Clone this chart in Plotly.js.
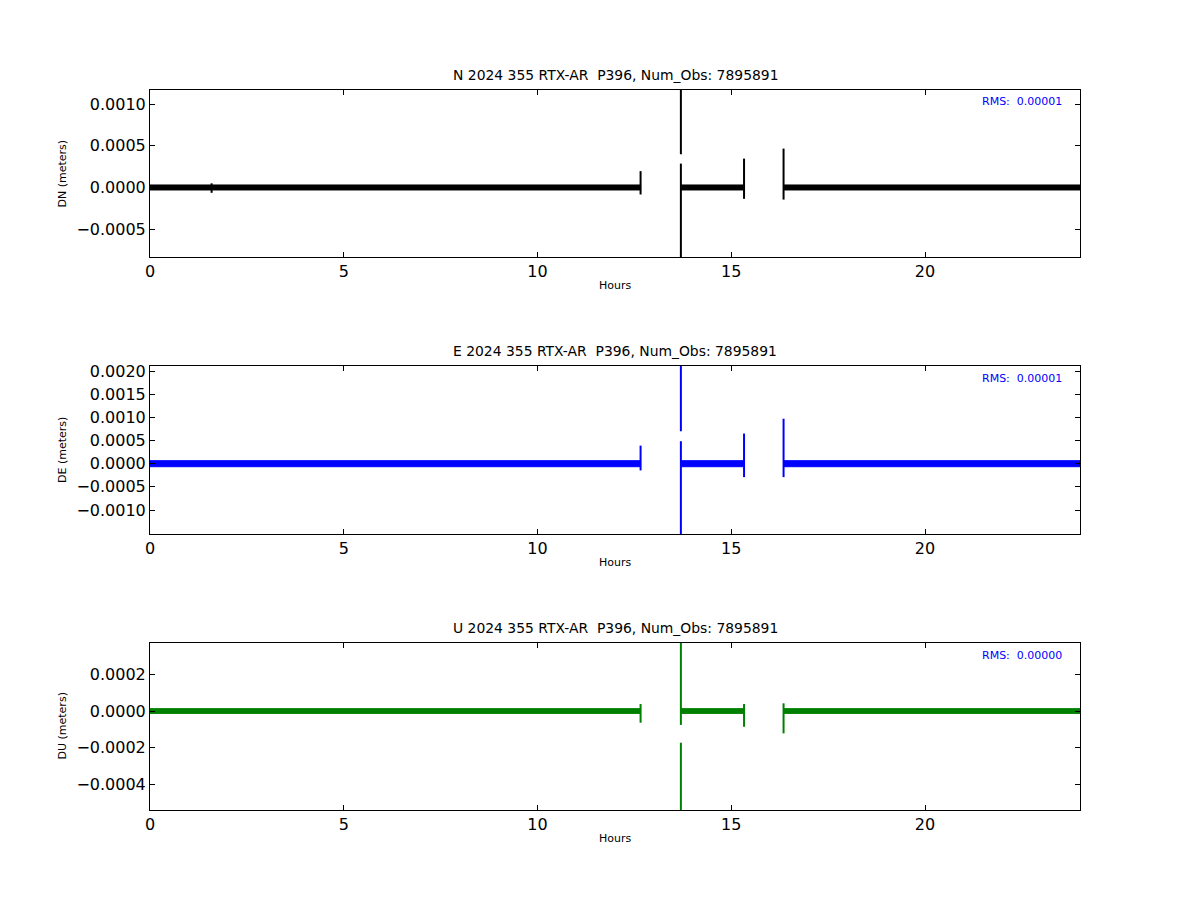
<!DOCTYPE html>
<html>
<head>
<meta charset="utf-8">
<script src="https://cdn.plot.ly/plotly-3.0.1.min.js"></script>
<style>html,body{margin:0;padding:0;background:#fff;}#chart{width:1200px;height:900px;}</style>
</head>
<body>
<div id="chart"></div>
<script>
// ---------- data ----------
const hourTicks = [0, 5, 10, 15, 20];
const components = ["N", "E", "U"];
const yLabels = ["DN (meters)", "DE (meters)", "DU (meters)"];
const titleText = " 2024 355 RTX-AR\u00A0 P396, Num_Obs: 7895891";
const rmsValues = ["0.00001", "0.00001", "0.00000"];

// data segments (hours) - gaps between them
const segStart = [0.0, 13.70, 16.35];
const segEnd = [12.66, 15.33, 24.0];

// noise band extents (meters) for each component
const bandLowN = -0.00003, bandHighN = 0.00003;
const bandLowE = -0.000065, bandHighE = 0.000065;
const bandLowU = -0.000013, bandHighU = 0.000013;

// spikes / outliers: time, low, high (meters)
const spikeTimeN = [1.59, 12.66, 13.70, 13.70, 15.33, 16.35];
const spikeLowN = [-0.000064, -0.000084, 0.000398, -0.0012, -0.000136, -0.000145];
const spikeHighN = [0.00005, 0.000196, 0.0015, 0.000286, 0.000346, 0.000466];

const spikeTimeE = [12.66, 13.70, 13.70, 15.33, 16.35];
const spikeLowE = [-0.000145, 0.0007, -0.0018, -0.00029, -0.00029];
const spikeHighE = [0.00039, 0.0025, 0.000485, 0.00065, 0.00097];

const spikeTimeU = [12.66, 13.70, 13.70, 15.33, 16.35];
const spikeLowU = [-0.000064, -0.000076, -0.0007, -0.000086, -0.000122];
const spikeHighU = [0.000038, 0.0005, -0.000173, 0.000038, 0.000042];

// axis ranges
const yRangeN = [-0.000833, 0.001168];
const yRangeE = [-0.001517, 0.002108];
const yRangeU = [-0.00054, 0.000371];
const yTicksN = [-0.0005, 0.0, 0.0005, 0.0010];
const yTicksE = [-0.0010, -0.0005, 0.0, 0.0005, 0.0010, 0.0015, 0.0020];
const yTicksU = [-0.0004, -0.0002, 0.0, 0.0002];

const colors = ["#000000", "#0000ff", "#008000"];

// ---------- build ----------
const bands = [[bandLowN, bandHighN], [bandLowE, bandHighE], [bandLowU, bandHighU]];
const spikes = [[spikeTimeN, spikeLowN, spikeHighN], [spikeTimeE, spikeLowE, spikeHighE], [spikeTimeU, spikeLowU, spikeHighU]];
const yRanges = [yRangeN, yRangeE, yRangeU];
const yTicks = [yTicksN, yTicksE, yTicksU];

// pixel-designed domains
const W = 1200, H = 900;
const xDom = [150 / W, 1080 / W];
const yDomPx = [[90, 257], [366, 534], [643, 810]];

const traces = [];
const annotations = [];
const layout = {
  width: W, height: H,
  margin: {l: 0, r: 0, t: 0, b: 0},
  paper_bgcolor: "#ffffff", plot_bgcolor: "#ffffff",
  showlegend: false,
  font: {family: "DejaVu Sans, sans-serif", color: "#000"},
  annotations: annotations
};

components.forEach((c, i) => {
  const xa = i === 0 ? "x" : "x" + (i + 1);
  const ya = i === 0 ? "y" : "y" + (i + 1);
  const col = colors[i];
  // band polygons
  const bx = [], by = [];
  segStart.forEach((s, k) => {
    const e = segEnd[k];
    bx.push(s, e, e, s, s, null);
    by.push(bands[i][0], bands[i][0], bands[i][1], bands[i][1], bands[i][0], null);
  });
  traces.push({
    type: "scatter", mode: "lines", x: bx, y: by, xaxis: xa, yaxis: ya,
    fill: "toself", fillcolor: col, line: {color: col, width: 1},
    hoverinfo: "skip", name: c + " band"
  });
  // spikes
  const sx = [], sy = [];
  spikes[i][0].forEach((t, k) => {
    sx.push(t, t, null);
    sy.push(spikes[i][1][k], spikes[i][2][k], null);
  });
  traces.push({
    type: "scatter", mode: "lines", x: sx, y: sy, xaxis: xa, yaxis: ya,
    line: {color: col, width: 2}, name: c + " spikes"
  });

  const d = yDomPx[i];
  const yDom = [1 - d[1] / H, 1 - d[0] / H];
  const axCommon = {
    showline: true, linecolor: "#000", linewidth: 1, mirror: "ticks",
    ticks: "inside", ticklen: 5, tickwidth: 1, tickcolor: "#000",
    showgrid: false, zeroline: false,
    tickfont: {family: "DejaVu Sans, sans-serif", size: 16, color: "#000"}
  };
  layout["xaxis" + (i === 0 ? "" : i + 1)] = Object.assign({}, axCommon, {
    domain: xDom, anchor: ya, range: [0, 24],
    tickmode: "array", tickvals: hourTicks, ticktext: hourTicks.map(String)
  });
  layout["yaxis" + (i === 0 ? "" : i + 1)] = Object.assign({}, axCommon, {
    domain: yDom, anchor: xa, range: yRanges[i],
    tickmode: "array", tickvals: yTicks[i], tickformat: ".4f"
  });

  // subplot title
  annotations.push({
    xref: xa + " domain", yref: ya + " domain", x: 0.5, y: 1 + 15 / (d[1] - d[0]),
    xanchor: "center", yanchor: "middle", showarrow: false,
    text: c + titleText, font: {size: 13.9, color: "#000"}
  });
  // RMS text
  annotations.push({
    xref: xa + " domain", yref: ya + " domain", x: (1064 - 150) / 930, y: 1 - 12 / (d[1] - d[0]),
    xanchor: "right", yanchor: "middle", showarrow: false,
    text: "RMS:\u00A0 " + rmsValues[i], font: {size: 11, color: "#0000ff"}
  });
  // x axis title
  annotations.push({
    xref: xa + " domain", yref: "paper", x: 0.5, y: 1 - (d[1] + 28) / H,
    xanchor: "center", yanchor: "middle", showarrow: false,
    text: "Hours", font: {size: 11, color: "#000"}
  });
  // y axis title
  annotations.push({
    xref: "paper", yref: ya + " domain", x: 62 / W, y: 0.5,
    xanchor: "center", yanchor: "middle", showarrow: false, textangle: -90,
    text: yLabels[i], font: {size: 11, color: "#000"}
  });
});

Plotly.newPlot("chart", traces, layout, {staticPlot: true, displayModeBar: false});
</script>
</body>
</html>
